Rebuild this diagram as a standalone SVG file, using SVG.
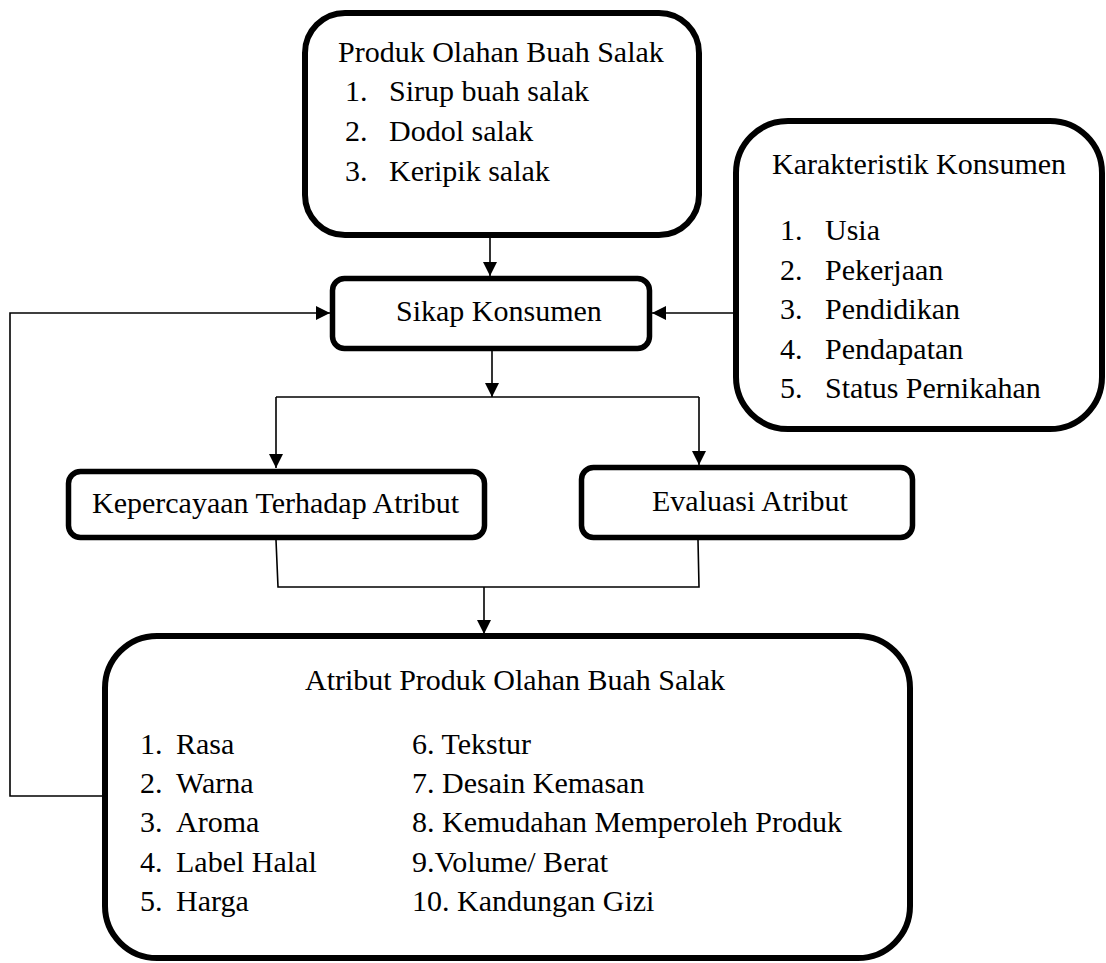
<svg xmlns="http://www.w3.org/2000/svg" width="1106" height="963" viewBox="0 0 1106 963">
<style>
.box{fill:#fff;stroke:#000;stroke-width:6}
.sbox{fill:#fff;stroke:#000;stroke-width:5.5}
.ln{fill:none;stroke:#000;stroke-width:1.6}
.t text{font-family:"Liberation Serif","Times New Roman",serif;font-size:30px;fill:#000}
</style>
<defs>
<marker id="ah" viewBox="0 0 14 14" refX="14" refY="7" markerWidth="14" markerHeight="14" markerUnits="userSpaceOnUse" orient="auto">
<path d="M0,0 L14,7 L0,14 Z" fill="#000"/>
</marker>
</defs>
<rect width="1106" height="963" fill="#fff"/>
<g id="connectors">
<path class="ln" d="M490,238 V276" marker-end="url(#ah)"/>
<path class="ln" d="M733,313 H652" marker-end="url(#ah)"/>
<path class="ln" d="M102,796 H10 V313 H330" marker-end="url(#ah)"/>
<path class="ln" d="M492,351 V397" marker-end="url(#ah)"/>
<path class="ln" d="M276,397 H699"/>
<path class="ln" d="M276,397 V468" marker-end="url(#ah)"/>
<path class="ln" d="M699,397 V465" marker-end="url(#ah)"/>
<path class="ln" d="M276,540 L278,587 H699 L698,540"/>
<path class="ln" d="M484,587 V634" marker-end="url(#ah)"/>
</g>
<g id="produk" class="t">
<rect class="box" x="305" y="13" width="394" height="222" rx="40"/>
<text x="338" y="62">Produk Olahan Buah Salak</text>
<text x="345" y="101">1.</text><text x="389" y="101">Sirup buah salak</text>
<text x="345" y="141">2.</text><text x="389" y="141">Dodol salak</text>
<text x="345" y="181">3.</text><text x="389" y="181">Keripik salak</text>
</g>
<g id="karakteristik" class="t">
<rect class="box" x="736" y="121" width="366" height="308" rx="52"/>
<text x="772" y="174">Karakteristik Konsumen</text>
<text x="780" y="240">1.</text><text x="825" y="240">Usia</text>
<text x="780" y="279.5">2.</text><text x="825" y="279.5">Pekerjaan</text>
<text x="780" y="319">3.</text><text x="825" y="319">Pendidikan</text>
<text x="780" y="358.5">4.</text><text x="825" y="358.5">Pendapatan</text>
<text x="780" y="398">5.</text><text x="825" y="398">Status Pernikahan</text>
</g>
<g id="sikap" class="t">
<rect class="sbox" x="332.5" y="278.5" width="317" height="70" rx="12"/>
<text x="396" y="321">Sikap Konsumen</text>
</g>
<g id="kepercayaan" class="t">
<rect class="sbox" x="68.5" y="471.5" width="416" height="66" rx="12"/>
<text x="92" y="513">Kepercayaan Terhadap Atribut</text>
</g>
<g id="evaluasi" class="t">
<rect class="sbox" x="581.5" y="467.5" width="331" height="70" rx="12"/>
<text x="652" y="511">Evaluasi Atribut</text>
</g>
<g id="atribut" class="t">
<rect class="box" x="105" y="636" width="805" height="322" rx="52"/>
<text x="305" y="690">Atribut Produk Olahan Buah Salak</text>
<text x="140" y="754">1.</text><text x="176" y="754">Rasa</text>
<text x="140" y="793">2.</text><text x="176" y="793">Warna</text>
<text x="140" y="832">3.</text><text x="176" y="832">Aroma</text>
<text x="140" y="872">4.</text><text x="176" y="872">Label Halal</text>
<text x="140" y="911">5.</text><text x="176" y="911">Harga</text>
<text x="412" y="754">6. Tekstur</text>
<text x="412" y="793">7. Desain Kemasan</text>
<text x="412" y="832">8. Kemudahan Memperoleh Produk</text>
<text x="412" y="872">9.Volume/ Berat</text>
<text x="412" y="911">10. Kandungan Gizi</text>
</g>
</svg>
